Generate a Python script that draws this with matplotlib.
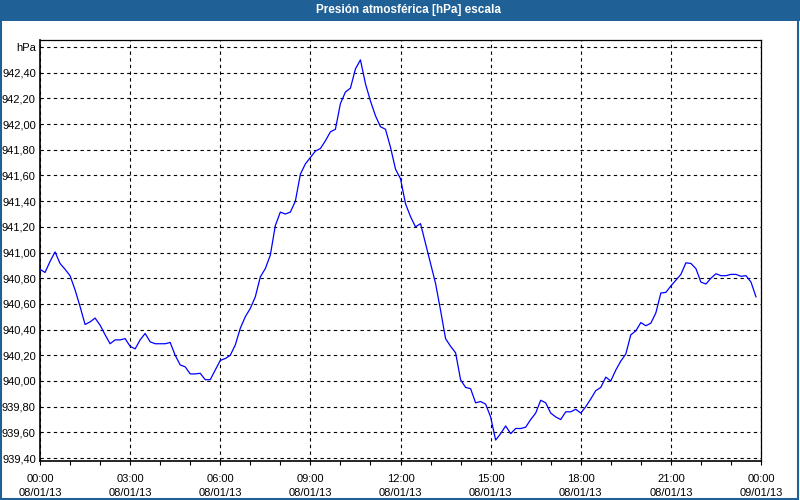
#!/usr/bin/env python
import matplotlib
matplotlib.use("Agg")
import matplotlib.pyplot as plt
from matplotlib.patches import Rectangle
import numpy as np

plt.rcParams["font.family"] = ["Liberation Sans", "DejaVu Sans"]

# presion cada 10 minutos, 08/01/13 00:00 .. 23:50
pressure = [
    940.87, 940.845, 940.93, 941.005, 940.915, 940.87, 940.82, 940.71, 940.58, 940.44,
    940.46, 940.49, 940.435, 940.36, 940.29, 940.32, 940.32, 940.33, 940.27, 940.25,
    940.32, 940.37, 940.305, 940.29, 940.29, 940.29, 940.30, 940.20, 940.125, 940.11,
    940.055, 940.055, 940.06, 940.01, 940.01, 940.085, 940.16, 940.175, 940.20, 940.28,
    940.41, 940.50, 940.565, 940.655, 940.81, 940.875, 940.98, 941.21, 941.315, 941.30,
    941.315, 941.40, 941.61, 941.69, 941.74, 941.79, 941.81, 941.87, 941.94, 941.96,
    942.16, 942.25, 942.28, 942.43, 942.50, 942.315, 942.18, 942.065, 941.98, 941.96,
    941.82, 941.65, 941.575, 941.38, 941.28, 941.20, 941.225, 941.07, 940.915, 940.76,
    940.55, 940.33, 940.27, 940.22, 940.01, 939.95, 939.94, 939.83, 939.84, 939.82,
    939.72, 939.54, 939.59, 939.65, 939.59, 939.63, 939.63, 939.64, 939.70, 939.75,
    939.85, 939.83, 939.75, 939.72, 939.70, 939.76, 939.76, 939.78, 939.75, 939.80,
    939.86, 939.925, 939.95, 940.03, 940.00, 940.085, 940.155, 940.21, 940.36, 940.39,
    940.455, 940.43, 940.45, 940.53, 940.685, 940.69, 940.74, 940.785, 940.83, 940.92,
    940.915, 940.875, 940.77, 940.755, 940.80, 940.835, 940.82, 940.82, 940.83, 940.83,
    940.815, 940.82, 940.77, 940.655,
]
hours = np.arange(len(pressure)) / 6.0

xtick_hours = [0, 3, 6, 9, 12, 15, 18, 21, 24]
xtick_labels = ["00:00\n08/01/13", "03:00\n08/01/13", "06:00\n08/01/13", "09:00\n08/01/13",
                "12:00\n08/01/13", "15:00\n08/01/13", "18:00\n08/01/13", "21:00\n08/01/13",
                "00:00\n09/01/13"]
ytick_values = [939.40, 939.60, 939.80, 940.00, 940.20, 940.40, 940.60, 940.80,
                941.00, 941.20, 941.40, 941.60, 941.80, 942.00, 942.20, 942.40, 942.60]
ytick_labels = ["939,40", "939,60", "939,80", "940,00", "940,20", "940,40", "940,60",
                "940,80", "941,00", "941,20", "941,40", "941,60", "941,80", "942,00",
                "942,20", "942,40", "hPa"]

title = "Presión atmosférica [hPa] escala"
bar_color = "#1f6096"

fig = plt.figure(figsize=(8, 5), dpi=100)
fig.patch.set_facecolor("white")

# barra del titulo y marco
fig.patches.append(Rectangle((0, 1 - 21 / 500), 1, 21 / 500, transform=fig.transFigure,
                             facecolor=bar_color, edgecolor="none", zorder=0))
fig.patches.append(Rectangle((0.001, 0.002), 0.997, 0.996, transform=fig.transFigure,
                             facecolor="none", edgecolor=bar_color, linewidth=1.5, zorder=1))
fig.text(0.51, 1 - 10.5 / 500, title, color="white", fontsize=8.5, fontweight="bold",
         ha="center", va="center")

ax = fig.add_axes([40 / 800, 1 - 461 / 500, 721 / 800, 421 / 500])
ax.plot(hours, pressure, color="#0000ff", linewidth=0.9, zorder=3)

ax.set_xlim(0, 24)
ax.set_ylim(939.377, 942.655)

ax.set_xticks(xtick_hours)
ax.set_xticklabels(xtick_labels, fontsize=8, linespacing=1.5)
ax.set_xticks(np.arange(0, 25, 1), minor=True)
ax.set_yticks(ytick_values)
ax.set_yticklabels(ytick_labels, fontsize=8)

ax.tick_params(axis="x", which="both", direction="out", length=3, width=0.8, pad=6)
ax.tick_params(axis="y", which="both", length=0, pad=3)

ax.grid(True, which="major", color="black", linestyle=(0, (3, 3)), linewidth=0.8)
ax.set_axisbelow(True)

for side in ["left", "bottom"]:
    ax.spines[side].set_linewidth(1.2)
for side in ["top", "right"]:
    ax.spines[side].set_linewidth(0.9)

fig.savefig("out.png", dpi=100)
